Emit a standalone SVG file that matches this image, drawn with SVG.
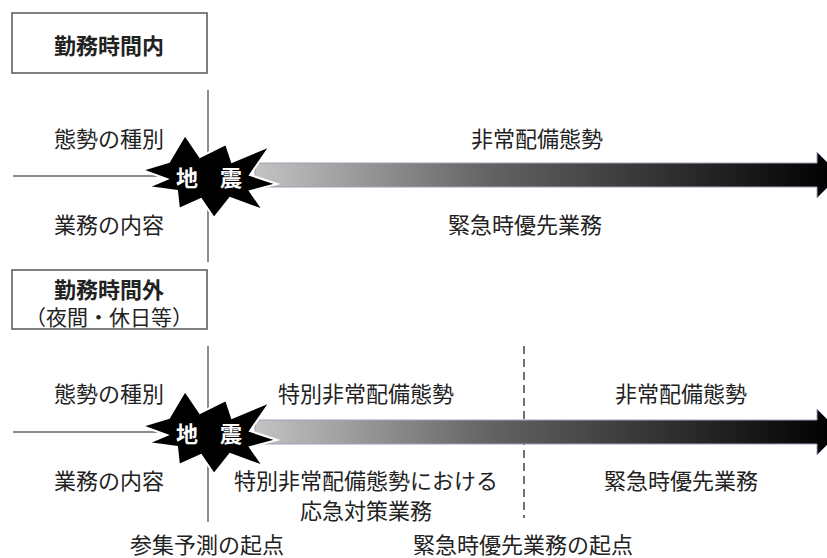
<svg xmlns="http://www.w3.org/2000/svg" width="827" height="558" viewBox="0 0 827 558">
<style>
text{font-family:"Noto Sans CJK JP","Noto Sans",sans-serif;fill:#222;font-size:22px;text-anchor:middle;dominant-baseline:central}
.t{font-weight:bold}
.w{fill:#fff;font-weight:bold}
.box{fill:#fff;stroke:#555;stroke-width:1.5}
.ln{stroke:#666;stroke-width:1.5;fill:none}
.dash{stroke:#444;stroke-width:1.5;stroke-dasharray:8 5;fill:none}
.arr{fill:url(#g);stroke:#9aa4b4;stroke-width:1}
.boom{fill:#000;stroke:#fff;stroke-width:2;stroke-linejoin:miter}
</style>
<defs>
<linearGradient id="g" gradientUnits="userSpaceOnUse" x1="255" y1="0" x2="835" y2="0">
<stop offset="0" stop-color="#c4c4c4"/>
<stop offset="0.4" stop-color="#646464"/>
<stop offset="1" stop-color="#000"/>
</linearGradient>
<polygon id="star" points="142,170 169,162 185,135 200,157 226,144 232,162 270,146 250,175 277,184 250,191 263,210 230,198 214,218 201,199 179,209 177,191 148,187 167,179"/>
</defs>

<g id="connectors">
<line class="ln" x1="208" y1="90" x2="208" y2="262"/>
<line class="ln" x1="13" y1="176" x2="160" y2="176"/>
<line class="ln" x1="208" y1="346" x2="208" y2="522"/>
<line class="dash" x1="524" y1="346" x2="524" y2="518"/>
<line class="ln" x1="13" y1="432" x2="160" y2="432"/>
<polygon class="arr" points="255,163 817,163 817,152 840,175 817,198 817,187 255,187"/>
<polygon class="arr" points="255,420 817,420 817,409 840,432 817,455 817,444 255,444"/>
</g>

<g id="box-in">
<rect class="box" x="12" y="13" width="195" height="60"/>
<text class="t" x="109" y="44">勤務時間内</text>
</g>

<g id="box-out">
<rect class="box" x="12" y="270" width="195" height="59"/>
<text class="t" x="109" y="288">勤務時間外</text>
<text x="109" y="316" style="font-size:21px">（夜間・休日等）</text>
</g>

<g id="quake1">
<use href="#star" class="boom"/>
<text class="w" x="187" y="176">地</text>
<text class="w" x="231" y="176">震</text>
</g>

<g id="quake2">
<use href="#star" class="boom" transform="translate(0,256)"/>
<text class="w" x="187" y="432">地</text>
<text class="w" x="231" y="432">震</text>
</g>

<g id="labels-top">
<text x="109" y="137">態勢の種別</text>
<text x="109" y="223">業務の内容</text>
<text x="537" y="137">非常配備態勢</text>
<text x="525" y="223">緊急時優先業務</text>
</g>

<g id="labels-bottom">
<text x="109" y="392">態勢の種別</text>
<text x="109" y="479">業務の内容</text>
<text x="366" y="392">特別非常配備態勢</text>
<text x="366" y="479">特別非常配備態勢における</text>
<text x="366" y="509">応急対策業務</text>
<text x="681" y="392">非常配備態勢</text>
<text x="681" y="479">緊急時優先業務</text>
<text x="207" y="543">参集予測の起点</text>
<text x="523" y="543">緊急時優先業務の起点</text>
</g>
</svg>
